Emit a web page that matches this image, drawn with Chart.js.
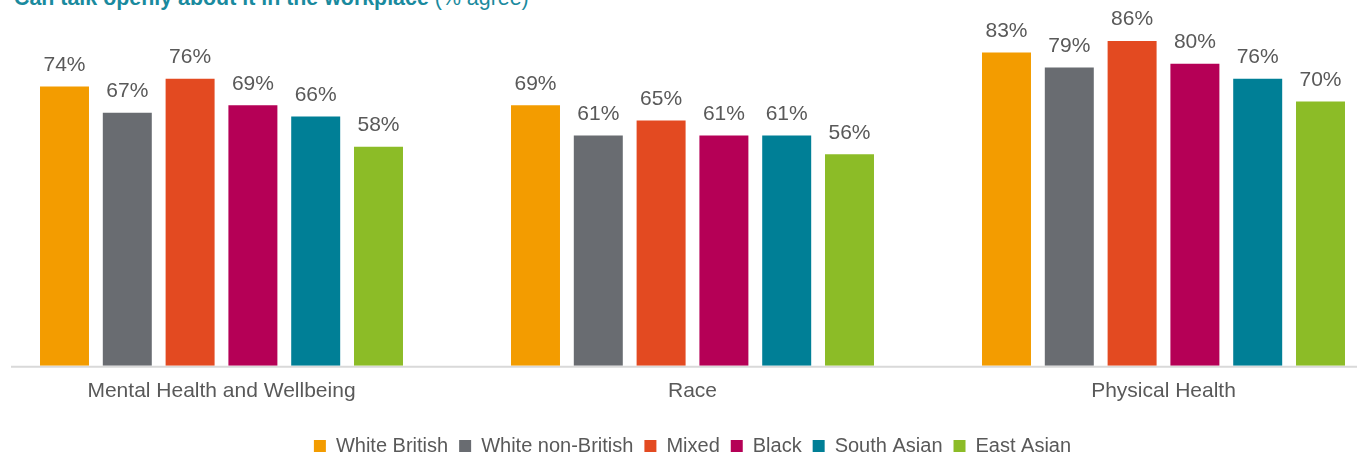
<!DOCTYPE html>
<html>
<head>
<meta charset="utf-8">
<script src="https://cdn.jsdelivr.net/npm/chart.js@4"></script>
<style>
  body { margin: 0; background: #fff; overflow: hidden; font-family: "Liberation Sans", Arial, sans-serif; }
  #title { position: absolute; top: -12px; left: 14px; font-size: 21.4px; line-height: 21px; color: #1a8a9e; white-space: nowrap; }
  #title b { font-weight: bold; }
  #wrap { position: absolute; top: 0; left: -14px; width: 1413px; height: 456px; }
</style>
</head>
<body>
<div id="title"><b>Can talk openly about it in the workplace</b> (% agree)</div>
<div id="wrap"><canvas id="chart"></canvas></div>
<script>
const categories = ['Mental Health and Wellbeing', 'Race', 'Physical Health'];
const groups = ['White British', 'White non-British', 'Mixed', 'Black', 'South Asian', 'East Asian'];
const colors = ['#f39c00', '#696c71', '#e34a21', '#b50056', '#007f96', '#8cbc27'];
const whiteBritish = [74, 69, 83];
const whiteNonBritish = [67, 61, 79];
const mixed = [76, 65, 86];
const black = [69, 61, 80];
const southAsian = [66, 61, 76];
const eastAsian = [58, 56, 70];
const values = [whiteBritish, whiteNonBritish, mixed, black, southAsian, eastAsian];

const textGray = '#595959';
const family = '"Liberation Sans", Arial, sans-serif';

// value labels above each bar
const barLabels = {
    id: 'barLabels',
    afterDatasetsDraw(chart) {
        const ctx = chart.ctx;
        ctx.save();
        ctx.font = '21px ' + family;
        ctx.fillStyle = textGray;
        ctx.textAlign = 'center';
        ctx.textBaseline = 'bottom';
        chart.data.datasets.forEach((ds, i) => {
            chart.getDatasetMeta(i).data.forEach((bar, j) => {
                ctx.fillText(ds.data[j] + '%', bar.x, bar.y - 11);
            });
        });
        ctx.restore();
    }
};

// light grey baseline
const baseline = {
    id: 'baseline',
    beforeDatasetsDraw(chart) {
        const ctx = chart.ctx;
        const area = chart.chartArea;
        ctx.save();
        ctx.strokeStyle = '#d9d9d9';
        ctx.lineWidth = 2;
        ctx.beginPath();
        ctx.moveTo(area.left + 25, area.bottom + 1);
        ctx.lineTo(area.right, area.bottom + 1);
        ctx.stroke();
        ctx.restore();
    }
};

new Chart(document.getElementById('chart').getContext('2d'), {
    type: 'bar',
    data: {
        labels: categories,
        datasets: groups.map((g, i) => ({
            label: g,
            data: values[i],
            backgroundColor: colors[i],
            borderWidth: 0,
            categoryPercentage: 0.8,
            barPercentage: 0.78
        }))
    },
    options: {
        responsive: true,
        maintainAspectRatio: false,
        animation: false,
        layout: { padding: { top: 26, left: 0, right: 0, bottom: -10 } },
        plugins: {
            legend: {
                position: 'bottom',
                labels: {
                    boxWidth: 12,
                    boxHeight: 12,
                    padding: 11,
                    color: textGray,
                    font: { family: family, size: 20 }
                }
            },
            tooltip: { enabled: false }
        },
        scales: {
            x: {
                grid: { display: false },
                border: { display: false },
                ticks: { color: textGray, font: { family: family, size: 21 }, padding: 5 },
                afterFit(scale) { scale.height += 16; }
            },
            y: {
                display: false,
                min: 0,
                max: 90
            }
        }
    },
    plugins: [barLabels, baseline]
});
</script>
</body>
</html>
